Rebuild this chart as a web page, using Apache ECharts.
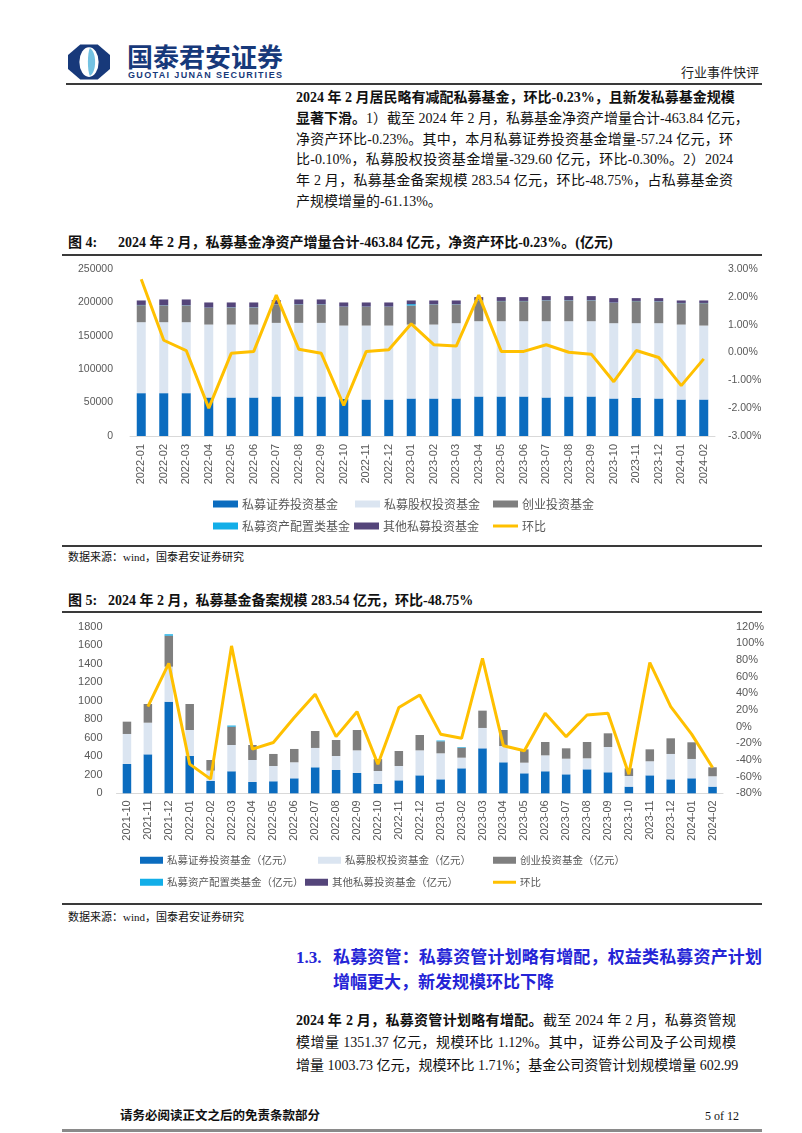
<!DOCTYPE html>
<html><head><meta charset="utf-8">
<script src="https://cdn.jsdelivr.net/npm/echarts@6/dist/echarts.min.js"></script>
<style>
html,body{margin:0;padding:0;background:#fff;}
#page{position:relative;width:802px;height:1133px;overflow:hidden;font-family:"Liberation Serif","Noto Sans CJK SC",serif;color:#111;}
.abs{position:absolute;white-space:nowrap;}
.jl{position:absolute;height:21px;line-height:21px;font-size:14px;text-align:justify;text-align-last:justify;white-space:nowrap;}
.hl{position:absolute;background:#3a3a3a;}
b{font-weight:bold;}
</style></head>
<body><div id="page">
<!-- header -->
<svg class="abs" style="left:68px;top:44px" width="42" height="36" viewBox="0 0 48 40">
  <path d="M14,0 L34,0 L48,12 L48,28 L34,40 L14,40 L0,28 L0,12 Z" fill="#17397a"/>
  <ellipse cx="24" cy="20" rx="11" ry="17" fill="#fff"/>
  <path d="M25,4 C33,9 33,31 25,36 C22,30 22,10 25,4 Z" fill="#73c2e2"/>
</svg>
<div class="abs" style="left:127px;top:42px;font-size:26px;font-weight:bold;color:#17397a;font-family:'Noto Sans CJK SC';line-height:28px">国泰君安证券</div>
<div class="abs" style="left:128px;top:70px;font-size:9px;font-weight:bold;color:#17397a;font-family:'Liberation Sans';letter-spacing:1.35px;line-height:10px">GUOTAI JUNAN SECURITIES</div>
<div class="abs" style="left:681px;top:65px;font-size:13px;color:#222;line-height:16px">行业事件快评</div>
<div class="hl" style="left:66px;top:83px;width:696px;height:2px;"></div>

<!-- paragraph 1 -->
<div class="jl" style="left:296px;top:87px;width:437px"><b>2024 年 2 月居民略有减配私募基金，环比-0.23%，且新发私募基金规模</b></div>
<div class="jl" style="left:296px;top:108px;width:437px"><b>显著下滑。</b>1）截至 2024 年 2 月，私募基金净资产增量合计-463.84 亿元，</div>
<div class="jl" style="left:296px;top:129px;width:437px">净资产环比-0.23%。其中，本月私募证券投资基金增量-57.24 亿元，环</div>
<div class="jl" style="left:296px;top:149px;width:437px">比-0.10%，私募股权投资基金增量-329.60 亿元，环比-0.30%。2）2024</div>
<div class="jl" style="left:296px;top:170px;width:437px">年 2 月，私募基金备案规模 283.54 亿元，环比-48.75%，占私募基金资</div>
<div class="abs" style="left:296px;top:191px;font-size:14px;line-height:21px">产规模增量的-61.13%。</div>

<!-- figure 4 -->
<div class="abs" style="left:68px;top:233px;font-size:14px;font-weight:bold;line-height:19px">图 4:</div>
<div class="abs" style="left:118px;top:233px;font-size:14px;font-weight:bold;line-height:19px">2024 年 2 月，私募基金净资产增量合计-463.84 亿元，净资产环比-0.23%。(亿元)</div>
<div class="hl" style="left:62px;top:254px;width:700px;height:2px;"></div>
<div id="c1" class="abs" style="left:0;top:255px;width:802px;height:290px"></div>
<div class="hl" style="left:62px;top:545px;width:700px;height:1.5px;"></div>
<div class="abs" style="left:68px;top:549px;font-size:11px;line-height:16px">数据来源：wind，国泰君安证券研究</div>

<!-- figure 5 -->
<div class="abs" style="left:68px;top:591px;font-size:14px;font-weight:bold;line-height:19px">图 5:</div>
<div class="abs" style="left:108px;top:591px;font-size:14px;font-weight:bold;line-height:19px">2024 年 2 月，私募基金备案规模 283.54 亿元，环比-48.75%</div>
<div class="hl" style="left:62px;top:611px;width:700px;height:2px;"></div>
<div id="c2" class="abs" style="left:0;top:615px;width:802px;height:288px"></div>
<div class="hl" style="left:62px;top:903px;width:700px;height:1.5px;"></div>
<div class="abs" style="left:68px;top:909px;font-size:11px;line-height:16px">数据来源：wind，国泰君安证券研究</div>

<!-- section 1.3 -->
<div class="abs" style="left:296px;top:947px;font-size:17px;font-weight:bold;color:#2424d6;line-height:22px">1.3.</div>
<div class="jl" style="left:333px;top:947px;width:429px;font-size:17px;font-weight:bold;color:#2424d6;line-height:22px;height:22px">私募资管：私募资管计划略有增配，权益类私募资产计划</div>
<div class="abs" style="left:333px;top:972px;font-size:17px;font-weight:bold;color:#2424d6;line-height:22px">增幅更大，新发规模环比下降</div>

<div class="jl" style="left:296px;top:1010px;width:440px"><b>2024 年 2 月，私募资管计划略有增配。</b>截至 2024 年 2 月，私募资管规</div>
<div class="jl" style="left:296px;top:1032px;width:440px">模增量 1351.37 亿元，规模环比 1.12%。其中，证券公司及子公司规模</div>
<div class="jl" style="left:296px;top:1055px;width:440px">增量 1003.73 亿元，规模环比 1.71%；基金公司资管计划规模增量 602.99</div>

<!-- footer -->
<div class="abs" style="left:120px;top:1108px;font-size:12.5px;font-weight:bold;line-height:16px">请务必阅读正文之后的免责条款部分</div>
<div class="abs" style="left:705px;top:1108px;font-size:12px;line-height:16px">5 of 12</div>
<div class="hl" style="left:62px;top:1129px;width:700px;height:3px;background:#8a8a8a"></div>
</div>
<script>
// ---------- Figure 4 data (亿元 / %) ----------
var cats1 = ['2022-01','2022-02','2022-03','2022-04','2022-05','2022-06','2022-07','2022-08','2022-09','2022-10','2022-11','2022-12','2023-01','2023-02','2023-03','2023-04','2023-05','2023-06','2023-07','2023-08','2023-09','2023-10','2023-11','2023-12','2024-01','2024-02'];
var sec1   = [64130,64130,64130,57620,57620,57620,59120,59120,59120,55610,54610,54610,56110,56110,56110,59120,59120,59120,57620,59120,59120,56110,57120,56110,54610,54610];
var pe1    = [106210,106210,106210,109210,109210,109210,110220,110220,110220,109720,110720,110720,110720,110720,112730,112720,112720,112720,114220,112720,112720,112730,111720,112730,112220,110720];
var vc1    = [25550,25050,25050,25050,25550,25550,27550,27550,27550,28060,28060,28060,28560,30060,28050,31060,30060,30060,31060,31060,31060,30560,33060,32560,32070,33570];
var alloc1 = [300,300,300,300,300,300,300,300,300,300,300,300,2000,300,300,300,300,300,300,300,300,300,300,300,300,300];
var other1 = [6710,8710,8710,7720,7220,7220,6210,7210,7210,6210,6210,6210,5500,5710,5710,4700,5700,5700,6200,6200,6200,6700,4200,4700,3700,3700];
var mom1   = [2.63,0.44,0.07,-2.00,-0.03,0.04,2.06,0.12,-0.03,-1.90,0.04,0.10,1.03,0.28,0.23,2.06,0.04,0.04,0.28,0.01,-0.06,-1.05,0.07,-0.18,-1.19,-0.23];

// ---------- Figure 5 data ----------
var cats2 = ['2021-10','2021-11','2021-12','2022-01','2022-02','2022-03','2022-04','2022-05','2022-06','2022-07','2022-08','2022-09','2022-10','2022-11','2022-12','2023-01','2023-02','2023-03','2023-04','2023-05','2023-06','2023-07','2023-08','2023-09','2023-10','2023-11','2023-12','2024-01','2024-02'];
var sec2   = [317,421,990,403,133,238,122,130,162,281,252,220,101,140,194,151,270,486,335,216,238,205,259,227,72,194,151,162,72];
var pe2    = [324,342,378,281,112,284,238,165,173,209,151,244,140,155,270,281,115,220,176,115,172,169,119,273,115,152,274,209,112];
var vc2    = [133,202,335,281,115,198,162,130,144,183,173,220,129,162,166,130,108,187,173,144,144,112,176,148,83,129,169,180,97];
var alloc2 = [0,0,15,0,0,12,0,0,0,0,0,0,0,0,0,8,6,0,0,0,0,0,0,0,0,0,0,0,0];
var other2 = [0,0,0,0,0,0,0,0,0,0,0,0,0,0,0,0,0,0,0,0,0,0,0,0,0,0,0,0,0];
var mom2   = [null,24,76,-45,-63,97,-27,-19,11,39,-12,18,-45,23,38,-9,-14,82,-23,-29,16,-12,14,16,-57,77,24,-9,-49];

var names1 = ['私募证券投资基金','私募股权投资基金','创业投资基金','私募资产配置类基金','其他私募投资基金','环比'];
var names2 = ['私募证券投资基金（亿元）','私募股权投资基金（亿元）','创业投资基金（亿元）','私募资产配置类基金（亿元）','其他私募投资基金（亿元）','环比'];
var colors = ['#0b6cbf','#dbe5f1','#7f7f7f','#12aee8','#54457a','#ffc000'];

var labelFont = '"Liberation Sans","Noto Sans CJK SC",sans-serif';
var legFont = '"Noto Sans CJK SC",sans-serif';

function legends(names, lefts, tops, iw, fs){
  var out = [];
  for (var i=0;i<6;i++){
    var isLine = i===5;
    out.push({
      data:[{name:names[i],icon:'rect'}],
      left:lefts[i], top:tops[i], padding:0,
      itemWidth:iw, itemHeight:isLine?3:7, itemGap:0,
      selectedMode:false,
      textStyle:{fontSize:fs,color:'#595959',fontFamily:legFont,padding:[0,0,0,-1]}
    });
  }
  return out;
}

function buildSeries(names, arrs, mom, bw){
  var s = [];
  for (var i=0;i<5;i++){
    s.push({name:names[i],type:'bar',stack:'a',data:arrs[i],barWidth:bw,
      itemStyle:{color:colors[i]},emphasis:{disabled:true}});
  }
  s.push({name:names[5],type:'line',yAxisIndex:1,data:mom,symbol:'none',
    lineStyle:{width:3,color:colors[5]},itemStyle:{color:colors[5]},z:5,emphasis:{disabled:true}});
  return s;
}
function plain(v){return String(v);}

var c1 = echarts.init(document.getElementById('c1'),null,{renderer:'canvas'});
c1.setOption({
  animation:false,
  grid:{left:130,top:14,width:585,height:167},
  legend:legends(names1,[213,355,493,213,354,493],[243,243,243,265,265,265],25,12),
  xAxis:{type:'category',data:cats1,
    axisLine:{lineStyle:{color:'#d9d9d9',width:1}},axisTick:{show:false},
    axisLabel:{rotate:90,margin:8,fontSize:11,color:'#595959',fontFamily:labelFont,interval:0}},
  yAxis:[
    {type:'value',min:0,max:250000,interval:50000,splitLine:{show:false},axisLine:{show:false},axisTick:{show:false},
     axisLabel:{margin:17,fontSize:10.5,color:'#595959',fontFamily:labelFont,formatter:plain}},
    {type:'value',min:-3,max:3,interval:1,splitLine:{show:false},axisLine:{show:false},axisTick:{show:false},
     axisLabel:{margin:13,fontSize:10.5,color:'#595959',fontFamily:labelFont,formatter:function(v){return v.toFixed(2)+'%';}}}
  ],
  series:buildSeries(names1,[sec1,pe1,vc1,alloc1,other1],mom1,9)
});

var c2 = echarts.init(document.getElementById('c2'),null,{renderer:'canvas'});
c2.setOption({
  animation:false,
  grid:{left:116.5,top:11.7,width:606.5,height:166.6},
  legend:legends(names2,[140,318,493,140,305,493],[240,240,240,262,262,262],23,10.5),
  xAxis:{type:'category',data:cats2,
    axisLine:{lineStyle:{color:'#d9d9d9',width:1}},axisTick:{show:false},
    axisLabel:{rotate:90,margin:7,fontSize:11,color:'#595959',fontFamily:labelFont,interval:0}},
  yAxis:[
    {type:'value',min:0,max:1800,interval:200,splitLine:{show:false},axisLine:{show:false},axisTick:{show:false},
     axisLabel:{margin:14,fontSize:11,color:'#595959',fontFamily:labelFont,formatter:plain}},
    {type:'value',min:-80,max:120,interval:20,splitLine:{show:false},axisLine:{show:false},axisTick:{show:false},
     axisLabel:{margin:13,fontSize:11,color:'#595959',fontFamily:labelFont,formatter:function(v){return v+'%';}}}
  ],
  series:buildSeries(names2,[sec2,pe2,vc2,alloc2,other2],mom2,8.5)
});
</script>
</body></html>
